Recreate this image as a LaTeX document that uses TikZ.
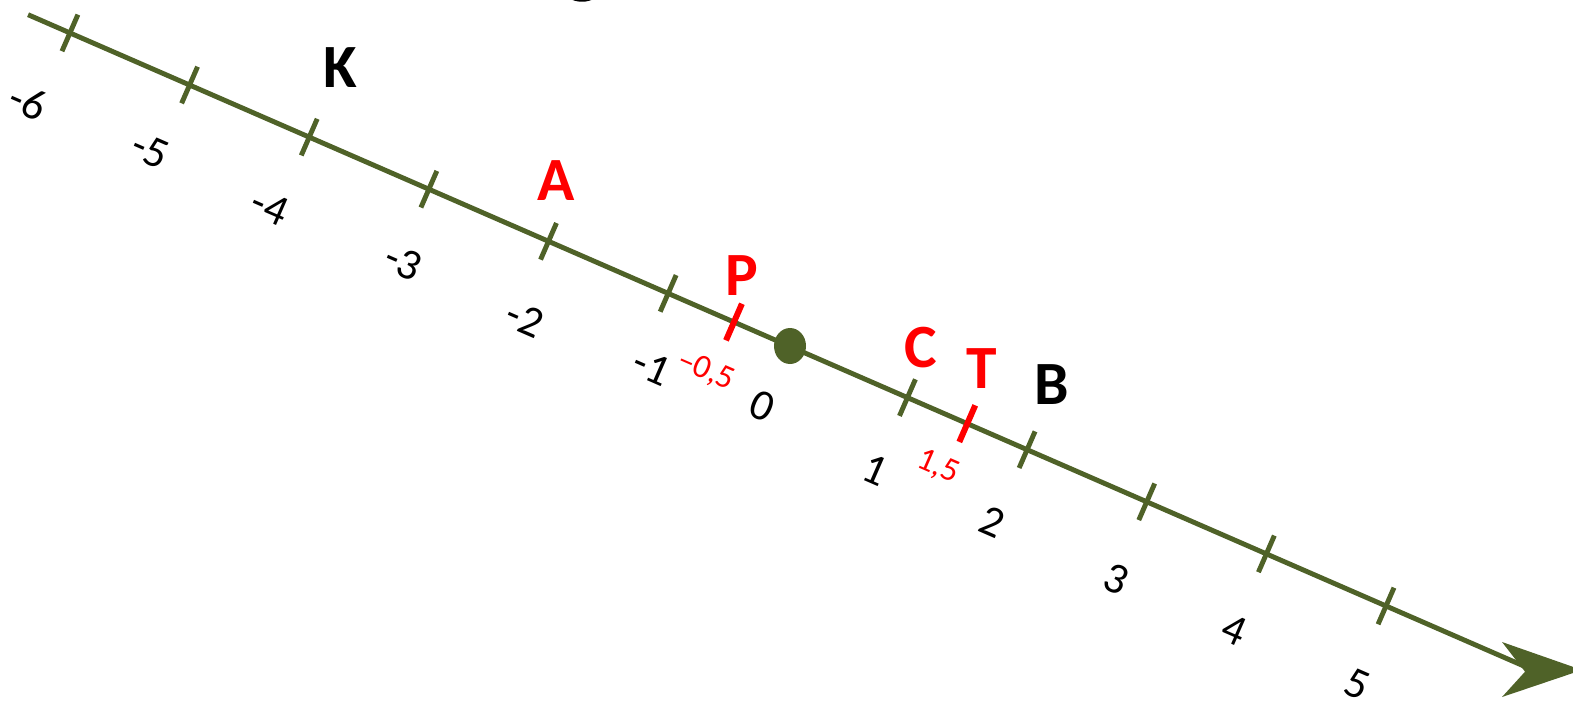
\documentclass[tikz,border=0pt]{standalone}
\usepackage{fontspec}
\setmainfont{Carlito}
\usetikzlibrary{positioning}
\definecolor{axisgreen}{RGB}{79,98,40}

\begin{document}
\begin{tikzpicture}[
  axis/.style={draw=axisgreen, line width=1.4pt},
  tick/.style={draw=axisgreen, line width=1.4pt},
  redtick/.style={draw=red, line width=1.7pt},
  num/.style={inner sep=0pt, rotate=-23.53, font=\fontsize{12.5}{14}\selectfont},
  rednum/.style={inner sep=0pt, rotate=-23.53, text=red, font=\fontsize{9.5}{11}\selectfont},
  letter/.style={inner sep=0pt, font=\fontsize{17.5}{20}\selectfont\bfseries}
]
  \useasboundingbox (0,0) rectangle (15.73,-7.07);
  \draw[line width=.7pt] (5.82,.25) ++(240:.255) arc (240:300:.255);

  % number line, turned along its own slope
  \begin{scope}[shift={(7.878,-3.455)}, rotate=-23.53, x=1.305cm, y=1.305cm]
    \coordinate (start) at (-6.35,0);
    \coordinate (end) at (6.16,0);
    \draw[axis] (start) -- (end);
    \foreach \n in {-6,...,-1,1,2,...,5} {
      \draw[tick] (\n,.153) -- (\n,-.153);
    }
    \draw[redtick] (-.45,.153) -- (-.45,-.153);
    \draw[redtick] (1.5,.153) -- (1.5,-.153);
  \end{scope}
  \fill[axisgreen] (15.02,-6.42) -- (15.82,-6.70) -- (15.02,-6.97) -- (15.25,-6.717) -- cycle;
  \fill[axisgreen] (7.90,-3.46) ellipse (.16 and .18);

  \foreach \v/\x/\y [count=\i] in {-6/.28/1.02,-5/1.50/1.50,-4/2.70/2.07,-3/4.03/2.62,-2/5.25/3.19,-1/6.52/3.67,0/7.62/4.06,1/8.75/4.70,2/9.92/5.22,3/11.16/5.79,4/12.34/6.30,5/13.57/6.84} {
    \node[num] (num\i) at (\x,-\y) {\v};
  }
  \node[rednum] (half) at (7.06,-3.71) {--0,5};
  \node[rednum] (onehalf) at (9.38,-4.67) {1,5};

  \foreach \l/\x/\y/\c in {K/3.40/.68/black,A/5.56/1.81/red,P/7.42/2.76/red,C/9.21/3.48/red,T/9.82/3.69/red,B/10.52/3.85/black} {
    \node[letter, text=\c] (pt\l) at (\x,-\y) {\l};
  }
\end{tikzpicture}
\end{document}
